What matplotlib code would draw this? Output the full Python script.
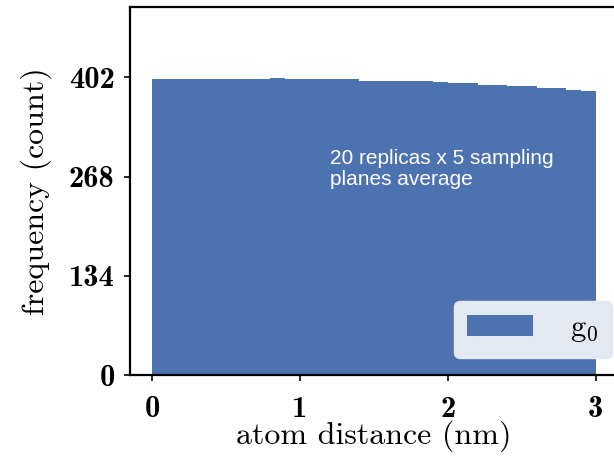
import matplotlib
matplotlib.use("Agg")
import matplotlib.pyplot as plt
import numpy as np

bin_edges = [0.0, 0.1, 0.2, 0.3, 0.4, 0.5, 0.6, 0.7, 0.8, 0.9, 1.0,
             1.1, 1.2, 1.3, 1.4, 1.5, 1.6, 1.7, 1.8, 1.9, 2.0,
             2.1, 2.2, 2.3, 2.4, 2.5, 2.6, 2.7, 2.8, 2.9, 3.0]
counts = [400, 400, 400, 400, 400, 400, 400, 400, 401, 399.3,
          399.3, 399.3, 399.3, 399.3, 396.5, 396.5, 396.5, 396.5, 396.5, 395.5,
          394, 394, 391, 391, 390, 390, 387.5, 387.5, 385, 384]
yticks = [0, 134, 268, 402]
xticks = [0, 1, 2, 3]
color = "#4c72b0"

plt.rcParams['axes.unicode_minus'] = False
plt.rcParams['mathtext.fontset'] = 'cm'
fig = plt.figure(figsize=(6.14, 4.66), dpi=100)
ax = fig.add_axes([130/614, 1-375/466, (618-130)/614, (375-7)/466])

ax.stairs(counts, bin_edges, fill=True, color=color, label=r"g$_0$")
ax.set_xlim(-0.15, 3.15)
ax.set_ylim(0, 497)
ax.set_yticks(yticks)
ax.set_xticks(xticks)
for lab in ax.get_xticklabels() + ax.get_yticklabels():
    lab.set_fontfamily("cmb10")
    lab.set_fontsize(22)
ax.tick_params(length=4, width=1.2)
ax.tick_params(axis="y", pad=7)
ax.tick_params(axis="x", pad=11)
for s in ax.spines.values():
    s.set_linewidth(1.6)
ax.set_xlabel("atom distance (nm)", fontfamily="cmr10", fontsize=23, labelpad=-2)
ax.set_ylabel("frequency (count)", fontfamily="cmr10", fontsize=23, labelpad=12)

ax.text(1.2, 278, "20 replicas x 5 sampling\nplanes average", color="white",
        fontfamily="Liberation Sans", fontsize=15, va="center", ha="left", linespacing=1.15)

leg = ax.legend(loc="lower right", bbox_to_anchor=(612/614, 1-358/466), bbox_transform=fig.transFigure,
                prop={"family": "cmr10", "size": 22}, fancybox=True, framealpha=1.0,
                facecolor="#e4e8f1", edgecolor="#e4e8f1", handlelength=2.15, handleheight=0.72,
                borderaxespad=0, borderpad=0.45, handletextpad=1.2)
fig.savefig("out.png", dpi=100)
